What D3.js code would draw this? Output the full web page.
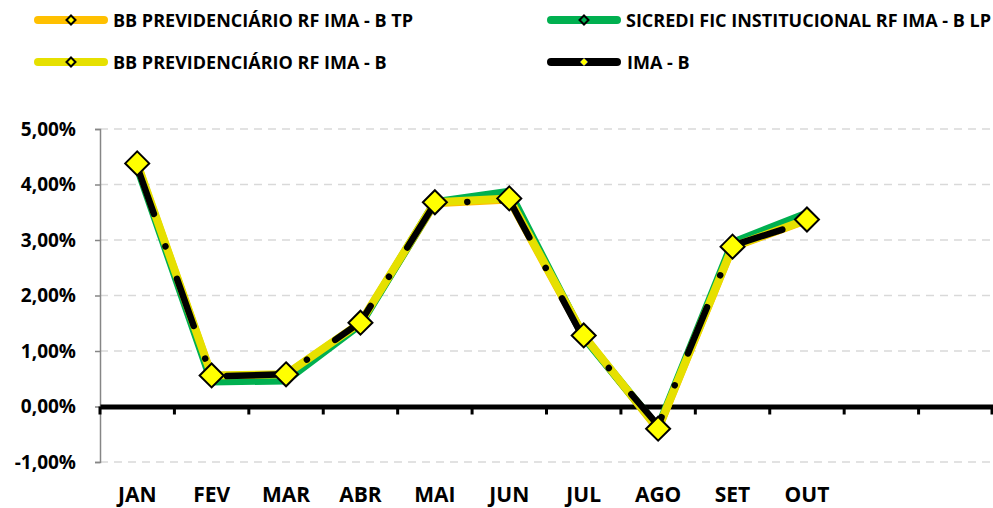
<!DOCTYPE html>
<html>
<head>
<meta charset="utf-8">
<script src="https://cdn.jsdelivr.net/npm/d3@7"></script>
<style>
  body { margin: 0; background: #fff; }
  svg { display: block; font-family: "Open Sans", sans-serif; font-weight: bold; }
</style>
</head>
<body>
<svg id="chart"></svg>
<script>
// data
var months = ["JAN", "FEV", "MAR", "ABR", "MAI", "JUN", "JUL", "AGO", "SET", "OUT", "NOV", "DEZ"];
var monthLabels = ["JAN", "FEV", "MAR", "ABR", "MAI", "JUN", "JUL", "AGO", "SET", "OUT", "", ""];
var bbTp = [4.36, 0.55, 0.57, 1.50, 3.66, 3.73, 1.27, -0.41, 2.87, 3.36];
var sicredi = [4.32, 0.45, 0.47, 1.48, 3.68, 3.87, 1.25, -0.38, 2.95, 3.48];
var bbImaB = [4.38, 0.56, 0.58, 1.51, 3.68, 3.75, 1.28, -0.40, 2.88, 3.37];
var imaB = [4.32, 0.54, 0.58, 1.52, 3.66, 3.72, 1.22, -0.34, 2.90, 3.33];
var yTicks = [-1, 0, 1, 2, 3, 4, 5];

var w = 993, h = 508;
var margin = { top: 129, right: 0, bottom: 46, left: 100 };

var svg = d3.select("#chart").attr("width", w).attr("height", h);

var x = d3.scaleBand().domain(months).range([margin.left, w - margin.right]);
var y = d3.scaleLinear().domain([-1, 5]).range([h - margin.bottom, margin.top]);
var cx = function(i) { return x(months[i]) + x.bandwidth() / 2; };

// gridlines
svg.append("g")
   .selectAll("line")
   .data(yTicks.filter(function(d) { return d !== 0; }))
   .enter()
   .append("line")
   .attr("x1", margin.left)
   .attr("x2", w)
   .attr("y1", function(d) { return y(d); })
   .attr("y2", function(d) { return y(d); })
   .attr("stroke", "#d9d9d9")
   .attr("stroke-width", 1.5)
   .attr("stroke-dasharray", "8,6");

// y axis
var fmt = function(d) { return d.toFixed(2).replace(".", ",") + "%"; };
var yAxis = d3.axisLeft(y).tickValues(yTicks).tickFormat(fmt).tickSize(5).tickPadding(19);
var gy = svg.append("g")
   .attr("transform", "translate(" + margin.left + ",0)")
   .call(yAxis);
gy.select(".domain").attr("stroke", "#868686").attr("stroke-width", 1.5);
gy.selectAll(".tick line").attr("stroke", "#868686").attr("stroke-width", 1.5);
gy.selectAll("text").attr("font-size", 19).attr("fill", "#000").attr("font-family", "Open Sans");

// zero line with ticks
var xAxis = d3.axisBottom(x).tickValues([]).tickSizeOuter(0);
var gx = svg.append("g")
   .attr("transform", "translate(0," + y(0) + ")")
   .call(xAxis);
gx.select(".domain").attr("stroke", "#000").attr("stroke-width", 5);
gx.selectAll(".sep")
  .data(months)
  .enter()
  .append("line")
  .attr("class", "sep")
  .attr("x1", function(d) { return x(d); })
  .attr("x2", function(d) { return x(d); })
  .attr("y1", 0)
  .attr("y2", 8)
  .attr("stroke", "#000")
  .attr("stroke-width", 3);
gx.append("line")
  .attr("x1", w - 1).attr("x2", w - 1).attr("y1", 0).attr("y2", 8)
  .attr("stroke", "#000").attr("stroke-width", 3);

// month labels
svg.append("g")
   .selectAll("text")
   .data(monthLabels)
   .enter()
   .append("text")
   .attr("x", function(d, i) { return cx(i); })
   .attr("y", 502)
   .attr("text-anchor", "middle")
   .attr("font-size", 21)
   .text(function(d) { return d; });

// lines
var line = d3.line()
   .x(function(d, i) { return cx(i); })
   .y(function(d) { return y(d); });

var series = [
  { name: "BB PREVIDENCIÁRIO RF IMA - B TP", values: bbTp, color: "#ffc000", width: 8, dash: null },
  { name: "SICREDI FIC INSTITUCIONAL RF IMA - B LP", values: sicredi, color: "#00b050", width: 8, dash: null },
  { name: "BB PREVIDENCIÁRIO RF IMA - B", values: bbImaB, color: "#e6e000", width: 8, dash: null },
  { name: "IMA - B", values: imaB, color: "#000000", width: 6.5, dash: "50,34.5,0.01,34.5" }
];

svg.append("g")
   .selectAll("path")
   .data(series)
   .enter()
   .append("path")
   .attr("d", function(d) { return line(d.values); })
   .attr("fill", "none")
   .attr("stroke", function(d) { return d.color; })
   .attr("stroke-width", function(d) { return d.width; })
   .attr("stroke-linecap", "round")
   .attr("stroke-linejoin", "round")
   .attr("stroke-dasharray", function(d) { return d.dash; });

// markers
var diamond = function(s) { return "M0," + (-s) + "L" + s + ",0L0," + s + "L" + (-s) + ",0Z"; };
svg.append("g")
   .selectAll("path")
   .data(bbImaB)
   .enter()
   .append("path")
   .attr("transform", function(d, i) { return "translate(" + cx(i) + "," + y(d) + ")"; })
   .attr("d", diamond(12))
   .attr("fill", "#ffff00")
   .attr("stroke", "#000")
   .attr("stroke-width", 2);

// legend
var legendPos = [
  { lx: 34, ly: 20 },
  { lx: 547, ly: 20 },
  { lx: 34, ly: 62 },
  { lx: 547, ly: 62 }
];
var lg = svg.append("g")
   .selectAll("g")
   .data(series)
   .enter()
   .append("g")
   .attr("transform", function(d, i) { return "translate(" + legendPos[i].lx + "," + legendPos[i].ly + ")"; });
lg.append("line")
  .attr("x1", 4).attr("x2", 70).attr("y1", 0).attr("y2", 0)
  .attr("stroke", function(d) { return d.color; })
  .attr("stroke-width", 8)
  .attr("stroke-linecap", "round");
lg.append("path")
  .attr("transform", "translate(37,0)")
  .attr("d", function(d, i) { return diamond(i === 3 ? 4 : 4.5); })
  .attr("fill", function(d, i) { return d.color === "#00b050" ? "#00b050" : "#ffff00"; })
  .attr("stroke", function(d, i) { return i === 3 ? "#555" : "#000"; })
  .attr("stroke-width", function(d, i) { return i === 3 ? 1 : 2; });
lg.append("text")
  .attr("x", function(d, i) { return i === 3 ? 80 : 79; })
  .attr("y", 6.5)
  .attr("font-size", 18)
  .text(function(d) { return d.name; });
</script>
</body>
</html>
